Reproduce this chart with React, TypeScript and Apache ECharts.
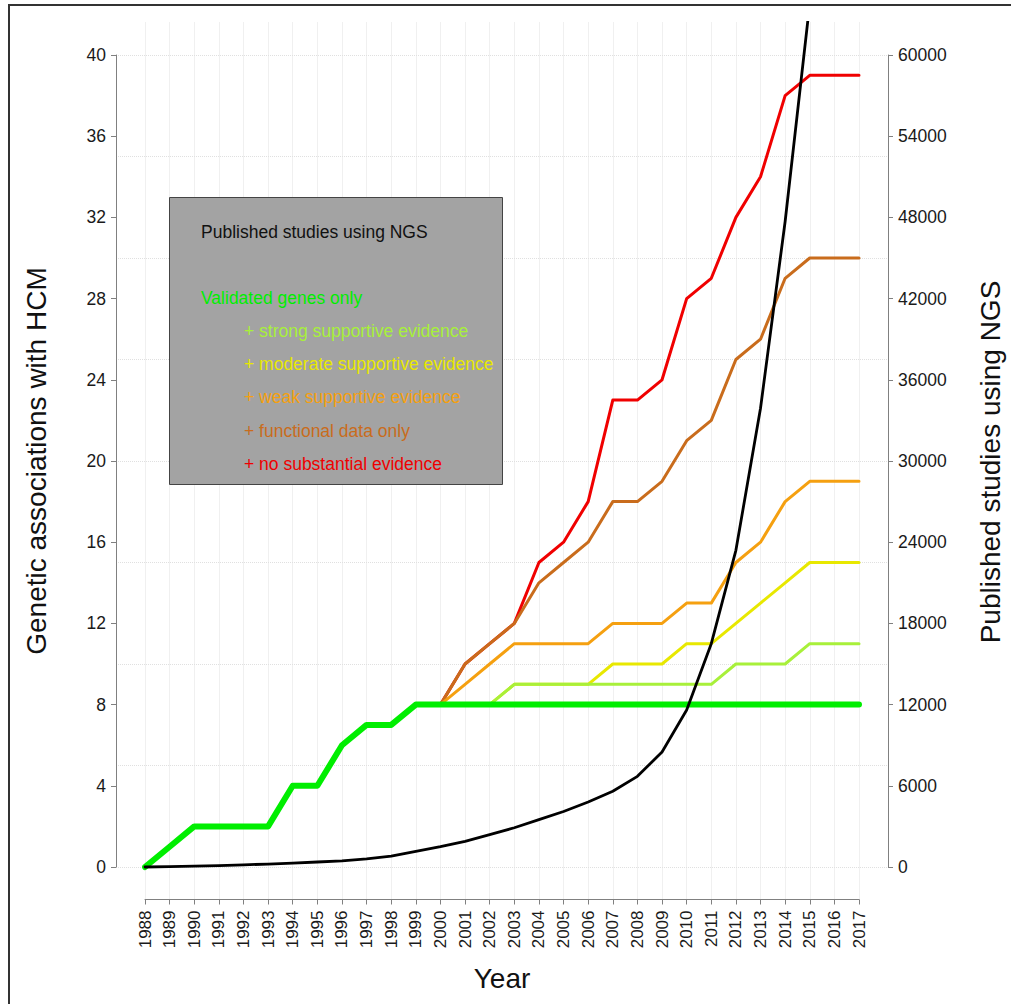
import React, { useEffect, useRef } from "react";
import * as echarts from "echarts";

const years = [1988, 1989, 1990, 1991, 1992, 1993, 1994, 1995, 1996, 1997, 1998, 1999, 2000, 2001, 2002, 2003, 2004, 2005, 2006, 2007, 2008, 2009, 2010, 2011, 2012, 2013, 2014, 2015, 2016, 2017];

const validatedGenes = [0, 1, 2, 2, 2, 2, 4, 4, 6, 7, 7, 8, 8, 8, 8, 8, 8, 8, 8, 8, 8, 8, 8, 8, 8, 8, 8, 8, 8, 8];
const strongEvidence = [0, 1, 2, 2, 2, 2, 4, 4, 6, 7, 7, 8, 8, 8, 8, 9, 9, 9, 9, 9, 9, 9, 9, 9, 10, 10, 10, 11, 11, 11];
const moderateEvidence = [0, 1, 2, 2, 2, 2, 4, 4, 6, 7, 7, 8, 8, 8, 8, 9, 9, 9, 9, 10, 10, 10, 11, 11, 12, 13, 14, 15, 15, 15];
const weakEvidence = [0, 1, 2, 2, 2, 2, 4, 4, 6, 7, 7, 8, 8, 9, 10, 11, 11, 11, 11, 12, 12, 12, 13, 13, 15, 16, 18, 19, 19, 19];
const functionalData = [0, 1, 2, 2, 2, 2, 4, 4, 6, 7, 7, 8, 8, 10, 11, 12, 14, 15, 16, 18, 18, 19, 21, 22, 25, 26, 29, 30, 30, 30];
const noSubstantial = [0, 1, 2, 2, 2, 2, 4, 4, 6, 7, 7, 8, 8, 10, 11, 12, 15, 16, 18, 23, 23, 24, 28, 29, 32, 34, 38, 39, 39, 39];
const ngsStudies = [0, 30, 70, 110, 160, 220, 290, 370, 460, 600, 800, 1150, 1500, 1900, 2400, 2900, 3500, 4100, 4800, 5600, 6700, 8500, 11600, 16500, 23400, 33900, 47700, 63800, null, null];

const leftTicks = { min: 0, max: 40, interval: 4 };
const rightTicks = { min: 0, max: 60000, interval: 6000 };

const legendItems = [
  { text: "Validated genes only", color: "#00ee00", indent: false },
  { text: "+ strong supportive evidence", color: "#a8f03a", indent: true },
  { text: "+ moderate supportive evidence", color: "#e8e800", indent: true },
  { text: "+ weak supportive evidence", color: "#f5a010", indent: true },
  { text: "+ functional data only", color: "#c96c1c", indent: true },
  { text: "+ no substantial evidence", color: "#f00000", indent: true },
];

const FONT = "'Liberation Sans', Arial, sans-serif";

export default function App() {
  const ref = useRef<HTMLDivElement>(null);

  useEffect(() => {
    if (!ref.current) return;
    const chart = echarts.init(ref.current, null, { renderer: "svg" });

    const pairs = (vals: (number | null)[]) => years.map((y, i) => [y, vals[i]]);

    const colored = [
      { name: "+ no substantial evidence", data: noSubstantial, color: "#f00000", width: 3 },
      { name: "+ functional data only", data: functionalData, color: "#c96c1c", width: 3 },
      { name: "+ weak supportive evidence", data: weakEvidence, color: "#f5a010", width: 3 },
      { name: "+ moderate supportive evidence", data: moderateEvidence, color: "#e8e800", width: 3 },
      { name: "+ strong supportive evidence", data: strongEvidence, color: "#a8f03a", width: 3 },
      { name: "Validated genes only", data: validatedGenes, color: "#00ee00", width: 6 },
    ];

    const series: any[] = colored.map((s) => ({
      type: "line",
      name: s.name,
      xAxisIndex: 0,
      yAxisIndex: 0,
      data: pairs(s.data),
      symbol: "none",
      clip: false,
      lineStyle: { color: s.color, width: s.width, cap: "round", join: "round" },
    }));
    series.push({
      type: "line",
      name: "Published studies using NGS",
      xAxisIndex: 0,
      yAxisIndex: 1,
      data: pairs(ngsStudies),
      symbol: "none",
      clip: true,
      lineStyle: { color: "#000000", width: 2.8, cap: "round", join: "round" },
    });

    const graphics: any[] = [
      {
        type: "rect",
        shape: { x: 9, y: 5, width: 1100, height: 1100 },
        style: { fill: "none", stroke: "#333333", lineWidth: 2 },
        z: 0,
      },
      {
        type: "rect",
        shape: { x: 169.5, y: 197.5, width: 333, height: 287 },
        style: { fill: "#a3a3a3", stroke: "#444444", lineWidth: 1 },
        z: 10,
      },
      {
        type: "text",
        x: 201,
        y: 232,
        z: 11,
        style: { text: "Published studies using NGS", fill: "#111111", fontSize: 17.5, fontFamily: FONT, textAlign: "left", textVerticalAlign: "middle" },
      },
      ...legendItems.map((it, i) => ({
        type: "text",
        x: it.indent ? 244 : 201,
        y: 297.5 + i * 33.3,
        z: 11,
        style: { text: it.text, fill: it.color, fontSize: 17.5, fontFamily: FONT, textAlign: "left", textVerticalAlign: "middle" },
      })),
      {
        type: "text",
        x: 502,
        y: 978,
        style: { text: "Year", fill: "#111111", fontSize: 28, fontFamily: FONT, textAlign: "center", textVerticalAlign: "middle" },
      },
      {
        type: "text",
        x: 36,
        y: 461,
        rotation: Math.PI / 2,
        style: { text: "Genetic associations with HCM", fill: "#111111", fontSize: 28, fontFamily: FONT, textAlign: "center", textVerticalAlign: "middle" },
      },
      {
        type: "text",
        x: 990,
        y: 462,
        rotation: Math.PI / 2,
        style: { text: "Published studies using NGS", fill: "#111111", fontSize: 28, fontFamily: FONT, textAlign: "center", textVerticalAlign: "middle" },
      },
    ];

    const axisGray = "#808080";
    const gridLine = { show: true, lineStyle: { color: "#e0e0e0", type: "dotted", width: 1 } };

    chart.setOption({
      animation: false,
      backgroundColor: "#ffffff",
      grid: [
        { left: 145, right: 1011 - 859, top: 22.5, bottom: 1004 - 899.5, containLabel: false },
        { left: 116, right: 1011 - 888, top: 55, bottom: 1004 - 867, containLabel: false },
      ],
      xAxis: [
        {
          type: "value",
          gridIndex: 0,
          min: years[0],
          max: years[years.length - 1],
          interval: 1,
          axisLine: { show: true, onZero: false, lineStyle: { color: axisGray, width: 1 } },
          axisTick: { show: true, length: 5, lineStyle: { color: axisGray } },
          axisLabel: { show: true, rotate: 90, margin: 11, fontSize: 17, color: "#1a1a1a", fontFamily: FONT, formatter: (v: number) => String(v) },
          splitLine: gridLine,
        },
        { type: "value", gridIndex: 1, min: 0, max: 1, show: false },
      ],
      yAxis: [
        { type: "value", gridIndex: 0, min: -1.6, max: 41.6, show: false },
        { type: "value", gridIndex: 0, min: -2400, max: 62400, show: false },
        {
          type: "value",
          gridIndex: 1,
          position: "left",
          min: leftTicks.min,
          max: leftTicks.max,
          interval: leftTicks.interval,
          axisLine: { show: true, onZero: false, lineStyle: { color: axisGray, width: 1 } },
          axisTick: { show: true, length: 5, lineStyle: { color: axisGray } },
          axisLabel: { show: true, margin: 10, fontSize: 17.5, color: "#1a1a1a", fontFamily: FONT, formatter: (v: number) => String(v) },
          splitLine: { show: false },
        },
        {
          type: "value",
          gridIndex: 1,
          position: "left",
          min: 0,
          max: 40,
          interval: 5,
          axisLine: { show: false },
          axisTick: { show: false },
          axisLabel: { show: false },
          splitLine: gridLine,
        },
        {
          type: "value",
          gridIndex: 1,
          position: "right",
          min: rightTicks.min,
          max: rightTicks.max,
          interval: rightTicks.interval,
          axisLine: { show: true, onZero: false, lineStyle: { color: axisGray, width: 1 } },
          axisTick: { show: true, length: 5, lineStyle: { color: axisGray } },
          axisLabel: { show: true, margin: 10, fontSize: 17.5, color: "#1a1a1a", fontFamily: FONT, formatter: (v: number) => String(v) },
          splitLine: { show: false },
        },
      ],
      series,
      graphic: graphics,
    });

    return () => chart.dispose();
  }, []);

  return <div ref={ref} style={{ position: "fixed", left: 0, top: 0, width: 1011, height: 1004 }} />;
}
